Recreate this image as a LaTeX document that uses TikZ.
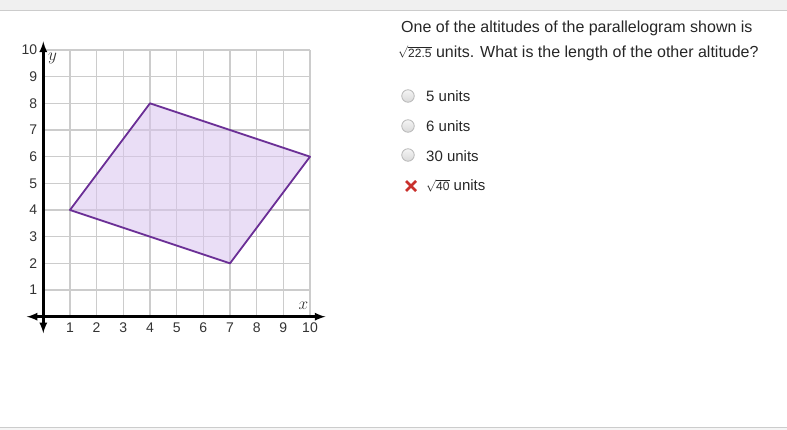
\documentclass[tikz,border=0pt]{standalone}
\usepackage{fontspec}
\setmainfont{Liberation Sans}
\usetikzlibrary{arrows}
\definecolor{gridgray}{HTML}{CCCCCC}
\definecolor{shapeline}{HTML}{6B2F96}
\definecolor{shapefill}{HTML}{D9C3EE}
\definecolor{crossred}{HTML}{C9302C}
\tikzset{
  qtext/.style={anchor=west, inner sep=0pt, font=\fontsize{15}{18}\selectfont, text=black!85},
  ticklabel/.style={inner sep=0pt, font=\fontsize{14}{15}\selectfont, text=black!80},
  axislabel/.style={inner sep=0pt, font=\fontsize{17}{18}\selectfont, text=black!80},
  radio/.style={circle, draw=gray!55, top color=gray!8, bottom color=gray!30, minimum size=12.5pt, inner sep=0pt, line width=0.8pt}
}
\newcommand{\smallroot}[1]{{\fontsize{12}{13}\selectfont$\sqrt{\hbox{#1}}$}}
\begin{document}
\begin{tikzpicture}[x=1pt,y=-1pt]
        \useasboundingbox (0,0) rectangle (787,430);
        % page bars
        \fill[gray!12] (0,0) rectangle (787,11);
        \draw[gray!40, line width=1pt] (0,11) -- (787,11);
        \fill[gray!8] (0,427) rectangle (787,430);
        \draw[gray!40, line width=1pt] (0,427) -- (787,427);

        \begin{scope}[shift={(43.3,316.7)}, x=26.67pt, y=26.67pt]
        \foreach \k in {1,...,10} {
          \draw[gridgray, line width=1.6pt] (\k,0) -- (\k,10);
          \draw[gridgray, line width=1.6pt] (0,\k) -- (10,\k);
        }

        \filldraw[fill=shapefill, fill opacity=0.55, draw=shapeline, line width=1.8pt, line join=round]
            (1,4) coordinate (A) -- (4,8) coordinate (B) -- (10,6) coordinate (C) -- (7,2) coordinate (D) -- cycle;

        \coordinate (xl) at (-0.62,0);
        \coordinate (xr) at (10.58,0);
        \coordinate (yb) at (0,-0.62);
        \coordinate (yt) at (0,10.32);
        \path[draw,line width=2.6pt,<->,>=latex] (xl) -- (xr);
        \path[draw,line width=2.6pt,<->,>=latex] (yb) -- (yt);

        \foreach \k in {1,...,10} {
          \node[ticklabel] (xt\k) at (\k,-0.4) {\k};
          \node[ticklabel, anchor=east] (yt\k) at (-0.22,\k) {\k};
        }
        \node[axislabel] (ylab) at (0.35,9.7) {$y$};
        \node[axislabel] (xlab) at (9.75,0.4) {$x$};
        \end{scope}

        % question
        \node[qtext, font=\fontsize{16}{18}\selectfont] (q1) at (401,28) {One of the altitudes of the parallelogram shown is};
        \node[qtext, font=\fontsize{16}{18}\selectfont] (q2) at (398,53) {\smallroot{22.5} units. What is the length of the other altitude?};

        % answers
        \node[radio] (r1) at (408,96) {};
        \node[radio] (r2) at (408,126) {};
        \node[radio] (r3) at (408,155) {};
        \node[qtext] (a1) at (426,96) {5 units};
        \node[qtext] (a2) at (426,126) {6 units};
        \node[qtext] (a3) at (426,156) {30 units};
        \node[qtext] (a4) at (426,186) {\smallroot{40} units};
        \draw[crossred, line width=2.8pt] (406,181) -- (416,191) (406,191) -- (416,181);
\end{tikzpicture}
\end{document}
